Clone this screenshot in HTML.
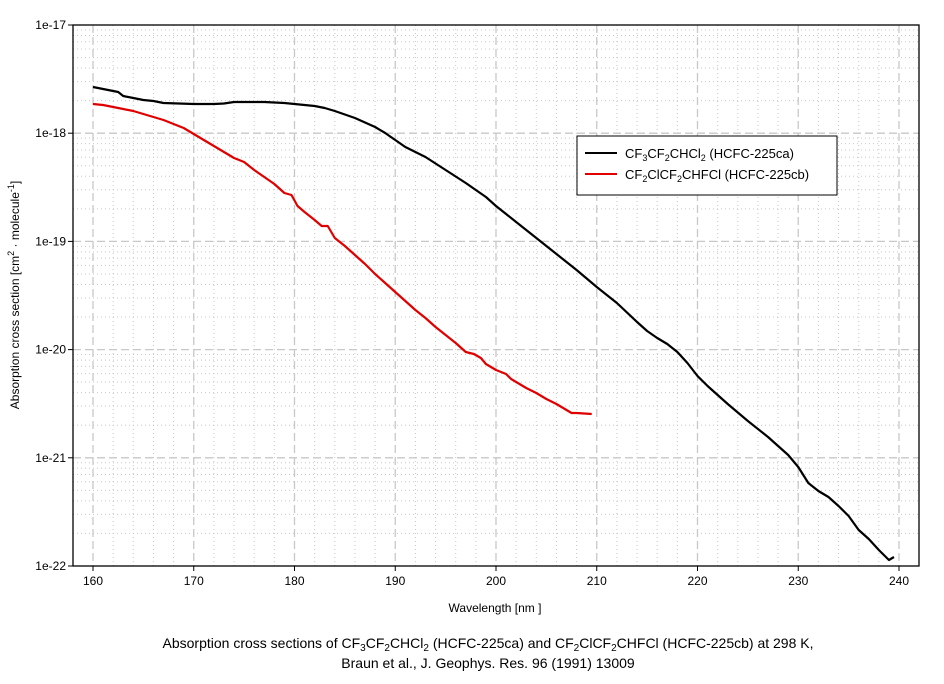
<!DOCTYPE html>
<html><head><meta charset="utf-8"><style>
html,body{margin:0;padding:0;background:#fff;}
svg text{font-family:"Liberation Sans",Arial,sans-serif;}
</style></head><body>
<svg id="s" width="944" height="679" xmlns="http://www.w3.org/2000/svg">
<g id="grid"></g>
<rect x="73" y="25" width="846" height="541" fill="none" stroke="#000" stroke-width="1.3"/>
<g id="ticks" font-size="12"></g>
<polyline id="blk" fill="none" stroke="#000" stroke-width="2.2" stroke-linejoin="round"/>
<polyline id="red" fill="none" stroke="#e00000" stroke-width="2.2" stroke-linejoin="round"/>
<rect x="577" y="136" width="260" height="59" fill="#fff" stroke="#000" stroke-width="1"/>
<line x1="585" y1="153" x2="617" y2="153" stroke="#000" stroke-width="2"/>
<line x1="585" y1="174" x2="617" y2="174" stroke="#e00000" stroke-width="2"/>
<text x="625" y="158" font-size="13">CF<tspan font-size="9" dy="3">3</tspan><tspan dy="-3">CF</tspan><tspan font-size="9" dy="3">2</tspan><tspan dy="-3">CHCl</tspan><tspan font-size="9" dy="3">2</tspan><tspan dy="-3"> (HCFC-225ca)</tspan></text>
<text x="625" y="179" font-size="13">CF<tspan font-size="9" dy="3">2</tspan><tspan dy="-3">ClCF</tspan><tspan font-size="9" dy="3">2</tspan><tspan dy="-3">CHFCl (HCFC-225cb)</tspan></text>
<text x="495" y="612" font-size="12" text-anchor="middle">Wavelength [nm ]</text>
<text transform="translate(19,295) rotate(-90)" font-size="12" text-anchor="middle">Absorption cross section [cm<tspan font-size="9" dy="-5">2</tspan><tspan dy="5"> · molecule</tspan><tspan font-size="9" dy="-5">-1</tspan><tspan dy="5">]</tspan></text>
<text x="488" y="648" font-size="14" text-anchor="middle">Absorption cross sections of CF<tspan font-size="10" dy="3">3</tspan><tspan dy="-3">CF</tspan><tspan font-size="10" dy="3">2</tspan><tspan dy="-3">CHCl</tspan><tspan font-size="10" dy="3">2</tspan><tspan dy="-3"> (HCFC-225ca) and CF</tspan><tspan font-size="10" dy="3">2</tspan><tspan dy="-3">ClCF</tspan><tspan font-size="10" dy="3">2</tspan><tspan dy="-3">CHFCl (HCFC-225cb) at 298 K,</tspan></text>
<text x="488" y="668" font-size="14" text-anchor="middle">Braun et al., J. Geophys. Res. 96 (1991) 13009</text>
</svg>
<script>
var NS="http://www.w3.org/2000/svg";
function el(p,t,a){var e=document.createElementNS(NS,t);for(var k in a)e.setAttribute(k,a[k]);document.getElementById(p).appendChild(e);return e;}
function X(w){return 93+(w-160)*10.075;}
function Y(l){return 25+(-17-l)*108.2;}
// minor vertical
for(var w=158;w<=242;w+=2){var x=X(w);if(x<=73||x>=919)continue;
 if(w%10==0)el("grid","line",{x1:x,y1:25,x2:x,y2:566,stroke:"#c8c8c8","stroke-width":1.3,"stroke-dasharray":"8,4"});
 else el("grid","line",{x1:x,y1:25,x2:x,y2:566,stroke:"#c8c8c8","stroke-width":1,"stroke-dasharray":"1,3"});}
for(var d=-22;d<-17;d++){for(var m=2;m<=9;m++){var y=Y(d+Math.log10(m));
 el("grid","line",{x1:73,y1:y,x2:919,y2:y,stroke:"#c8c8c8","stroke-width":1,"stroke-dasharray":"1,3"});}}
for(var d=-21;d<-17;d++){var y=Y(d);el("grid","line",{x1:73,y1:y,x2:919,y2:y,stroke:"#c8c8c8","stroke-width":1.3,"stroke-dasharray":"8,4"});}
for(var d=-22;d<=-17;d++){var y=Y(d);el("ticks","line",{x1:68,y1:y,x2:73,y2:y,stroke:"#000"});
 var t=el("ticks","text",{x:66,y:y+4,"text-anchor":"end"});t.textContent="1e"+d;}
for(var w=160;w<=240;w+=10){var x=X(w);el("ticks","line",{x1:x,y1:566,x2:x,y2:571,stroke:"#000"});
 var t=el("ticks","text",{x:x,y:585,"text-anchor":"middle"});t.textContent=w;}
var B=[[160,87],[161,89],[162,91],[162.5,92],[163,96],[164,98],[165,100],[166,101],[167,103],[170,104],[172,104],[173,103.5],[174,102],[177,102],[179,103],[180,104],[182,106],[183,108],[184,111],[186,118],[188,127],[189,133],[190,140],[191,147],[193,157],[195,170],[197,183],[199,197],[200,206],[202,222],[204,238],[206,254],[208,270],[210,287],[212,303],[214,322],[215,331],[216,338],[217,344],[218,352],[219,363],[220,376],[221,386],[223,404],[225,421],[227,437],[229,455],[230,467],[231,483],[232,491],[233,497],[234,506],[235,516],[236,530],[237,539],[238,550],[239,560],[239.5,557]];
var R=[[160,104],[161,105],[162,107],[163,109],[164,111],[165,114],[166,117],[167,120],[168,124],[169,128],[170,134],[171,140],[172,146],[173,152],[174,158],[175,162],[176,170],[177,177],[178,184],[179,193],[179.7,195],[180.3,206],[181,212],[182,220],[182.7,226],[183.3,226],[184,238],[185,246],[186,255],[187,264],[188,274],[189,283],[190,292],[191,301],[192,310],[193,318],[194,327],[195,335],[196,343],[197,352],[197.8,354],[198.5,358],[199,364],[200,370],[201,374],[201.5,379],[202,382],[203,388],[204,393],[205,399],[206,404],[207,410],[207.5,413],[208,413],[209.5,414]];
document.getElementById("blk").setAttribute("points",B.map(function(p){return X(p[0])+","+p[1]}).join(" "));
document.getElementById("red").setAttribute("points",R.map(function(p){return X(p[0])+","+p[1]}).join(" "));
</script>
</body></html>
